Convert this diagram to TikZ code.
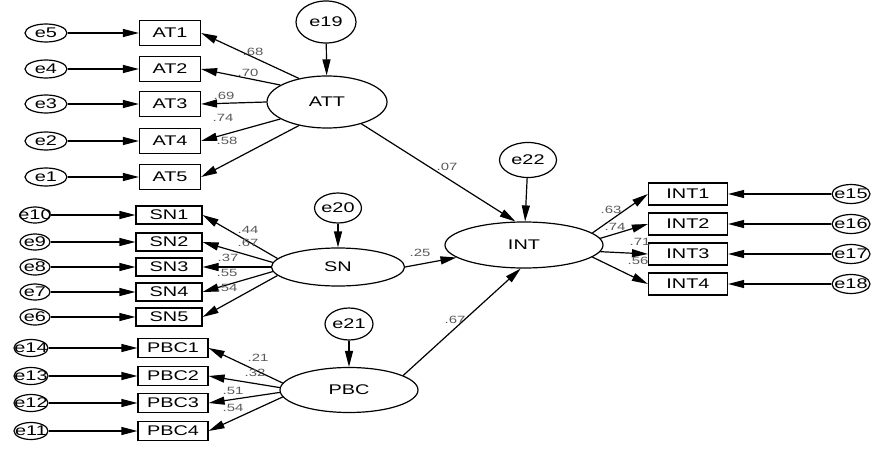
\documentclass[tikz,border=0pt]{standalone}
\usepackage{fontspec}
\setmainfont{Liberation Sans}[FakeStretch=1.42]
\usetikzlibrary{arrows.meta, positioning, shapes.geometric}
\tikzset{
    sem/.style={>={Triangle[length=16pt,width=8pt]}, line width=1.2pt, x=1pt, y=-1pt,
        font=\fontsize{14}{16}\selectfont},
    obs/.style={draw, minimum width=61pt, minimum height=25pt, inner sep=0pt},
    latent/.style={draw, ellipse, inner sep=0pt},
    err/.style={draw, ellipse, inner sep=0pt, minimum width=42pt, minimum height=18pt},
    errsm/.style={err, inner xsep=-7pt, inner ysep=-3pt},
    % path coefficients
    coef/.style={font=\fontsize{10.5}{12}\selectfont, text=black!65, inner sep=0pt},
}
\begin{document}
\begin{tikzpicture}[sem]
    \useasboundingbox (0,0) rectangle (873,452);

    % latent variables
    \node[latent, minimum width=120pt, minimum height=52pt] (ATT) at (327,102) {ATT};
    \node[latent, minimum width=133pt, minimum height=38pt] (SN)  at (338,267) {SN};
    \node[latent, minimum width=138pt, minimum height=45pt] (PBC) at (349,390) {PBC};
    \node[latent, minimum width=158pt, minimum height=46pt] (INT) at (524,245) {INT};

    % disturbances
    \node[err, minimum width=60pt, minimum height=42pt] (e19) at (326,22)  {e19};
    \node[err, minimum width=46pt, minimum height=30pt] (e20) at (338,208) {e20};
    \node[err, minimum width=48pt, minimum height=32pt] (e21) at (349,324) {e21};
    \node[err, minimum width=57pt, minimum height=35pt] (e22) at (528,160) {e22};
    \draw[->] (e19) -- (ATT);
    \draw[->] (e20) -- (SN);
    \draw[->] (e21) -- (PBC);
    \draw[->] (e22) -- (INT);

    % attitude indicators
    \foreach \i/\e/\y/\a in {1/5/33/140, 2/4/69/160, 3/3/104/180, 4/2/141/200, 5/1/177/220} {
        \node[obs] (AT\i) at (170,\y) {AT\i};
        \node[err] (e\e) at (46,\y) {e\e};
        \draw[->] (e\e) -- (AT\i);
        \draw[->] (ATT.\a) -- (AT\i.east);
    }

    % subjective norm indicators
    \foreach \i/\e/\y/\a in {1/10/215/172, 2/9/242/176, 3/8/267/180, 4/7/292/184, 5/6/317/188} {
        \node[obs, minimum width=66pt, minimum height=18pt] (SN\i) at (169,\y) {SN\i};
        \node[errsm, minimum width=30pt, minimum height=16pt] (e\e) at (35,\y) {e\e};
        \draw[->] (e\e) -- (SN\i);
        \draw[->] (SN.\a) -- (SN\i.east);
    }

    % perceived behavioural control indicators
    \foreach \i/\e/\y/\a in {1/14/348/174, 2/13/376/178, 3/12/403/182, 4/11/431/186} {
        \node[obs, minimum width=70pt, minimum height=19pt] (PBC\i) at (173,\y) {PBC\i};
        \node[errsm, minimum width=34pt, minimum height=17pt] (e\e) at (31,\y) {e\e};
        \draw[->] (e\e) -- (PBC\i);
        \draw[->] (PBC.\a) -- (PBC\i.east);
    }

    % intention indicators
    \foreach \i/\e/\y/\a in {1/15/194/10, 2/16/224/5, 3/17/254/-5, 4/18/284/-10} {
        \node[obs, minimum width=79pt, minimum height=22pt] (INT\i) at (688,\y) {INT\i};
        \node[errsm, minimum width=38pt, minimum height=19pt] (e\e) at (851,\y) {e\e};
        \draw[->] (e\e) -- (INT\i);
        \draw[->] (INT.\a) -- (INT\i.west);
    }

    % structural paths
    \draw[->] (ATT) -- (INT.110);
    \draw[->] (SN.east) -- (INT);
    \draw[->] (PBC.15) -- (INT.262);

    % estimates
    \foreach \v/\x/\y [count=\n] in {.68/253/52, .70/248/73, .69/224/96, .74/223/118, .58/227/141,
        .44/248/230, .67/248/243, .37/228/258, .55/227/273, .54/227/288,
        .21/258/358, .32/255/373, .51/233/391, .54/233/408,
        .63/611/210, .74/615/227, .71/640/242, .56/638/261,
        .07/447/167, .25/420/253, .67/455/320}
        \node[coef] (w\n) at (\x,\y) {\v};
\end{tikzpicture}
\end{document}
